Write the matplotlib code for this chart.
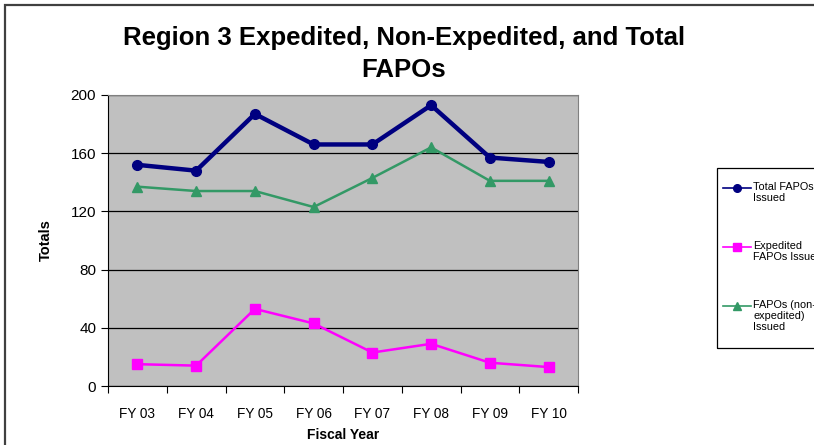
import numpy as np
import matplotlib.pyplot as plt
from matplotlib.patches import Rectangle
from matplotlib.lines import Line2D

plt.rcParams['font.family'] = ['Liberation Sans', 'DejaVu Sans']

years = ['FY 03', 'FY 04', 'FY 05', 'FY 06', 'FY 07', 'FY 08', 'FY 09', 'FY 10']
total = [152, 148, 187, 166, 166, 193, 157, 154]
expedited = [15, 14, 53, 43, 23, 29, 16, 13]
non_expedited = [137, 134, 134, 123, 143, 164, 141, 141]

series = [
    ('Total FAPOs\nIssued', total, '#000080', 3.2, 'o', 7),
    ('Expedited\nFAPOs Issued', expedited, '#FF00FF', 1.8, 's', 7),
    ('FAPOs (non-\nexpedited)\nIssued', non_expedited, '#339966', 1.8, '^', 6.5),
]

fig = plt.figure(figsize=(8.14, 4.45), dpi=100)
W, H = 814.0, 445.0

# outer chart border (top and left visible, rest off-canvas)
fig.patches.append(Rectangle((4.5 / W, -0.1), 1.2, 1 - 5 / H + 0.1, transform=fig.transFigure,
                             fill=False, edgecolor='#404040', linewidth=1.6))

ax = fig.add_axes([108 / W, 1 - 386 / H, 470 / W, 291 / H])
ax.set_facecolor('#C0C0C0')
x = np.arange(len(years))

for label, vals, color, lw, mk, ms in series:
    ax.plot(x, vals, color=color, linewidth=lw, marker=mk, markersize=ms, zorder=3)

ax.set_xlim(-0.5, len(years) - 0.5)
ax.set_ylim(0, 200)
ax.set_yticks(range(0, 201, 40))
ax.yaxis.grid(True, color='black', linewidth=0.9)
ax.set_axisbelow(True)

ax.set_xticks(np.arange(-0.5, len(years), 1.0))
ax.set_xticklabels([])
ax.set_xticks(x, minor=True)
ax.set_xticklabels(years, minor=True, fontsize=9.8)
ax.tick_params(axis='x', which='minor', length=0, pad=15)
ax.tick_params(axis='x', which='major', length=5, direction='out')
ax.tick_params(axis='y', length=5, direction='out', labelsize=11)

for s in ['top', 'right']:
    ax.spines[s].set_color('#808080')
for s in ['left', 'bottom']:
    ax.spines[s].set_color('black')

ax.set_xlabel('Fiscal Year', fontsize=10, fontweight='bold', labelpad=5)
ax.set_ylabel('Totals', fontsize=10.5, fontweight='bold', labelpad=13)
fig.text(404 / W, 1 - 54 / H, 'Region 3 Expedited, Non-Expedited, and Total\nFAPOs',
         ha='center', va='center', fontsize=18.5, fontweight='bold', linespacing=1.4)

# legend drawn by hand so each marker lines up with the first text line (Excel style)
fig.patches.append(Rectangle((717 / W, 1 - 348 / H), 120 / W, 180 / H, transform=fig.transFigure,
                             fill=False, edgecolor='black', linewidth=0.9))
first_line_y = [188, 247, 306]
for (label, vals, color, lw, mk, ms), yy in zip(series, first_line_y):
    yf = 1 - yy / H
    fig.add_artist(Line2D([723 / W, 751 / W], [yf, yf], transform=fig.transFigure,
                          color=color, linewidth=1.2))
    fig.add_artist(Line2D([737 / W], [yf], transform=fig.transFigure, color=color,
                          marker=mk, markersize=5.5, linestyle='none'))
    fig.text(753 / W, yf + 6 / H, label, ha='left', va='top', fontsize=7.8, linespacing=1.15)

fig.savefig('out.png', dpi=100)
